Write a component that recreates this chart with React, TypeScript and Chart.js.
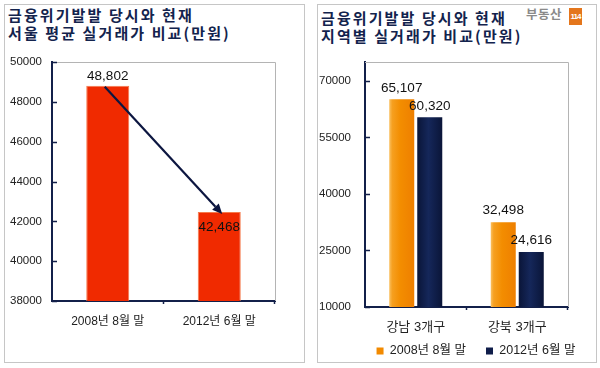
import React, { useEffect, useRef } from "react";
import { Chart, registerables } from "chart.js";
Chart.register(...registerables);

// ---------- data ----------
const leftCategories = ["2008년 8월 말", "2012년 6월 말"];
const leftValues = [48802, 42468];
const leftTicks = [38000, 40000, 42000, 44000, 46000, 48000, 50000];

const rightCategories = ["강남 3개구", "강북 3개구"];
const seriesNames = ["2008년 8월 말", "2012년 6월 말"];
const series2008 = [65107, 32498];
const series2012 = [60320, 24616];
const rightTicks = [10000, 25000, 40000, 55000, 70000];

const leftTitle = ["금융위기발발 당시와 현재", "서울 평균 실거래가 비교(만원)"];
const rightTitle = ["금융위기발발 당시와 현재", "지역별 실거래가 비교(만원)"];

// ---------- styles ----------
const FONT = "'Liberation Sans', 'Noto Sans CJK KR', sans-serif";
const NAVY = "#13204a";
const fmt = (v: number) => v.toLocaleString("en-US");

const framePlugin = {
  id: "frame",
  beforeDatasetsDraw(chart: any) {
    const { ctx, chartArea: a } = chart;
    ctx.save();
    ctx.strokeStyle = "#b4b4b4";
    ctx.lineWidth = 1;
    ctx.beginPath();
    ctx.moveTo(a.left, Math.round(a.top) + 0.5);
    ctx.lineTo(Math.round(a.right) + 0.5, Math.round(a.top) + 0.5);
    ctx.lineTo(Math.round(a.right) + 0.5, a.bottom);
    ctx.stroke();
    ctx.restore();
  },
  afterDraw(chart: any) {
    const { ctx, chartArea: a, scales } = chart;
    ctx.save();
    ctx.strokeStyle = NAVY;
    ctx.lineWidth = 1.5;
    ctx.beginPath();
    scales.y.ticks.forEach((t: any) => {
      const y = Math.round(scales.y.getPixelForValue(t.value)) + 0.5;
      ctx.moveTo(a.left, y);
      ctx.lineTo(a.left + 5, y);
    });
    const n = chart.data.labels.length;
    for (let k = 1; k <= n; k++) {
      const x = Math.round(a.left + (k * (a.right - a.left)) / n) - 0.5;
      ctx.moveTo(x, a.bottom);
      ctx.lineTo(x, a.bottom + 3);
    }
    ctx.stroke();
    ctx.restore();
  },
};

const leftLabelsPlugin = {
  id: "leftLabels",
  afterDatasetsDraw(chart: any) {
    const { ctx } = chart;
    const meta = chart.getDatasetMeta(0);
    ctx.save();
    ctx.font = `13.5px ${FONT}`;
    ctx.fillStyle = "#111";
    ctx.textAlign = "center";
    ctx.textBaseline = "middle";
    meta.data.forEach((el: any, i: number) => {
      const y = i === 0 ? el.y - 10 : el.y + 15;
      ctx.fillText(fmt(leftValues[i]), el.x, y);
    });
    // arrow
    const a = meta.data[0];
    const b = meta.data[1];
    const x1 = a.x - 3, y1 = a.y + 1;
    const x2 = b.x + 3, y2 = b.y + 2;
    const ang = Math.atan2(y2 - y1, x2 - x1);
    const hl = 10, hw = 4.5;
    const bx = x2 - hl * Math.cos(ang), by = y2 - hl * Math.sin(ang);
    ctx.strokeStyle = "#0c1640";
    ctx.fillStyle = "#0c1640";
    ctx.lineWidth = 2.2;
    ctx.beginPath();
    ctx.moveTo(x1, y1);
    ctx.lineTo(bx, by);
    ctx.stroke();
    ctx.beginPath();
    ctx.moveTo(x2, y2);
    ctx.lineTo(bx + hw * Math.sin(ang), by - hw * Math.cos(ang));
    ctx.lineTo(bx - hw * Math.sin(ang), by + hw * Math.cos(ang));
    ctx.closePath();
    ctx.fill();
    ctx.restore();
  },
};

const LEGEND_PAD = 20;
const LEGEND_FONT = 12.5;

const rightLabelsPlugin = {
  id: "rightLabels",
  beforeDatasetsDraw(chart: any) {
    const { ctx } = chart;
    chart.data.datasets.forEach((ds: any, di: number) => {
      const meta = chart.getDatasetMeta(di);
      meta.data.forEach((el: any) => {
        const g = ctx.createLinearGradient(el.x - el.width / 2, 0, el.x + el.width / 2, 0);
        if (di === 0) {
          g.addColorStop(0, "#fac060");
          g.addColorStop(0.12, "#f6a020");
          g.addColorStop(0.45, "#f38d00");
          g.addColorStop(1, "#ee7f00");
        } else {
          g.addColorStop(0, "#0a1538");
          g.addColorStop(0.45, "#15275a");
          g.addColorStop(1, "#0a1538");
        }
        el.options = Object.assign({}, el.options, { backgroundColor: g });
      });
    });
  },
  afterDatasetsDraw(chart: any) {
    const { ctx } = chart;
    ctx.save();
    ctx.font = `13.5px ${FONT}`;
    ctx.fillStyle = "#111";
    ctx.textAlign = "center";
    ctx.textBaseline = "middle";
    chart.data.datasets.forEach((ds: any, di: number) => {
      const meta = chart.getDatasetMeta(di);
      meta.data.forEach((el: any, i: number) => {
        ctx.fillText(fmt(ds.data[i]), el.x, el.y - 11.5);
      });
    });
    ctx.restore();
  },
  afterLayout(chart: any) {
    const lg = chart.legend;
    if (!lg) return;
    const dx = 176 - (lg.left + lg.right) / 2;
    lg.left += dx;
    lg.right += dx;
    const dy = 351 - LEGEND_PAD - LEGEND_FONT / 2 - lg.top;
    lg.top += dy;
    lg.bottom += dy;
  },
};

function leftConfig(): any {
  return {
    type: "bar",
    data: {
      labels: leftCategories,
      datasets: [
        {
          data: leftValues,
          backgroundColor: "#f02a00",
          borderColor: "#f57a4c",
          borderWidth: 1,
          barPercentage: 0.386,
          categoryPercentage: 1,
        },
      ],
    },
    options: {
      responsive: false,
      animation: false,
      layout: { padding: { left: 0, top: 62, right: 25, bottom: 27 } },
      plugins: { legend: { display: false }, tooltip: { enabled: false } },
      scales: {
        x: {
          grid: { display: false, drawTicks: false },
          border: { display: true, color: NAVY, width: 2 },
          ticks: { padding: 13, color: "#222", font: { family: FONT, size: 12 } },
          afterFit: (s: any) => { s.height = 40; },
        },
        y: {
          min: 38000,
          max: 50000,
          afterBuildTicks: (s: any) => { s.ticks = leftTicks.map((v) => ({ value: v })); },
          grid: { display: false, drawTicks: false },
          border: { display: true, color: NAVY, width: 2 },
          ticks: { padding: 10, color: "#222", font: { family: FONT, size: 11.5 }, callback: (v: any) => String(v) },
          afterFit: (s: any) => { s.width = 52; },
        },
      },
    },
    plugins: [framePlugin, leftLabelsPlugin],
  };
}

function rightConfig(): any {
  const common = { barPercentage: 0.893, categoryPercentage: 0.552, borderWidth: 0 };
  return {
    type: "bar",
    data: {
      labels: rightCategories,
      datasets: [
        { label: seriesNames[0], data: series2008, backgroundColor: "#f28a00", ...common },
        { label: seriesNames[1], data: series2012, backgroundColor: "#0f1d4a", ...common },
      ],
    },
    options: {
      responsive: false,
      animation: false,
      // canvas is 400 tall (bottom part hidden); legend repositioned in afterLayout
      layout: { padding: { left: 0, top: 62, right: 32, bottom: 400 - 307 - 36 - (LEGEND_FONT + LEGEND_PAD + 10) } },
      plugins: {
        tooltip: { enabled: false },
        legend: {
          display: true,
          position: "bottom",
          labels: {
            boxWidth: 7,
            boxHeight: 7,
            padding: LEGEND_PAD,
            color: "#222",
            font: { family: FONT, size: LEGEND_FONT },
          },
        },
      },
      scales: {
        x: {
          grid: { display: false, drawTicks: false },
          border: { display: true, color: NAVY, width: 2 },
          ticks: { padding: 13, color: "#222", font: { family: FONT, size: 13 } },
          afterFit: (s: any) => { s.height = 36; },
        },
        y: {
          min: 10000,
          max: 75000,
          afterBuildTicks: (s: any) => { s.ticks = rightTicks.map((v) => ({ value: v })); },
          grid: { display: false, drawTicks: false },
          border: { display: true, color: NAVY, width: 2 },
          ticks: { padding: 14, color: "#222", font: { family: FONT, size: 11.5 }, callback: (v: any) => String(v) },
          afterFit: (s: any) => { s.width = 65; },
        },
      },
    },
    plugins: [framePlugin, rightLabelsPlugin],
  };
}

const titleStyle: React.CSSProperties = {
  position: "absolute",
  fontFamily: "'Noto Sans CJK KR', sans-serif",
  fontWeight: 700,
  fontSize: 15,
  lineHeight: "18px",
  letterSpacing: "2.1px",
  color: "#13234d",
  whiteSpace: "nowrap",
};

export default function App() {
  const leftRef = useRef<HTMLCanvasElement>(null);
  const rightRef = useRef<HTMLCanvasElement>(null);
  useEffect(() => {
    const c1 = new Chart(leftRef.current!, leftConfig());
    const c2 = new Chart(rightRef.current!, rightConfig());
    return () => {
      c1.destroy();
      c2.destroy();
    };
  }, []);
  return (
    <div style={{ position: "fixed", left: 0, top: 0, width: 600, height: 368, background: "#fff", overflow: "hidden" }}>
      <div style={{ position: "absolute", left: 4, top: 4, width: 301, height: 359, boxSizing: "border-box", border: "1px solid #c6c6c6" }} />
      <div style={{ position: "absolute", left: 317, top: 4, width: 280, height: 359, boxSizing: "border-box", border: "1px solid #c6c6c6" }} />
      <div style={{ ...titleStyle, left: 8, top: 6 }}>
        {leftTitle[0]}
        <br />
        {leftTitle[1]}
      </div>
      <div style={{ ...titleStyle, left: 321, top: 9 }}>
        {rightTitle[0]}
        <br />
        {rightTitle[1]}
      </div>
      <div style={{ position: "absolute", left: 526, top: 6, fontFamily: "'Noto Sans CJK KR', sans-serif", fontWeight: 700, fontSize: 12.5, lineHeight: "16px", color: "#8a8a8a", letterSpacing: "0.5px" }}>
        부동산
      </div>
      <div style={{ position: "absolute", left: 569, top: 8, width: 13, height: 17, background: "#e4761c", color: "#fff", fontFamily: FONT, fontWeight: 700, fontSize: 8, lineHeight: "17px", textAlign: "center", letterSpacing: "-1px" }}>
        114
      </div>
      <canvas ref={leftRef} width={300} height={368} style={{ position: "absolute", left: 0, top: 0 }} />
      <canvas ref={rightRef} width={300} height={400} style={{ position: "absolute", left: 300, top: 0 }} />
    </div>
  );
}
